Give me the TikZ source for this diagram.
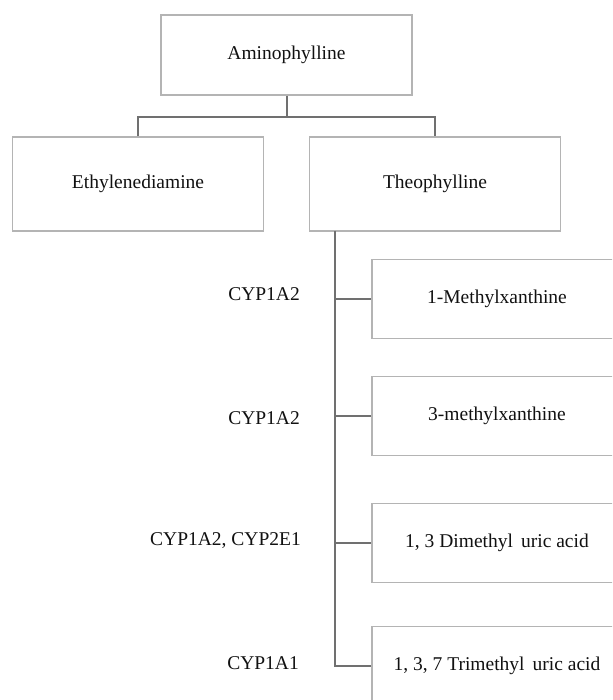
\documentclass[tikz,border=0pt]{standalone}
\usepackage{fontspec}
\setmainfont{Liberation Serif}
\begin{document}
\begin{tikzpicture}[x=1pt,y=-1pt,
  box/.style={draw=boxgray,line width=1.2pt,fill=white,inner sep=0pt,
    font=\fontsize{19.5}{23}\selectfont,text=txt},
  topbox/.style={box,minimum width=251pt,minimum height=80pt},
  midbox/.style={box,minimum width=251pt,minimum height=94pt},
  subbox/.style={box,minimum width=250pt,minimum height=79pt},
  lab/.style={anchor=east,inner sep=0pt,font=\fontsize{19.5}{23}\selectfont,text=txt},
  conn/.style={draw=linegray,line width=1.7pt}]
\definecolor{boxgray}{HTML}{B4B4B4}
\definecolor{linegray}{HTML}{707070}
\definecolor{txt}{HTML}{111111}
\useasboundingbox (0,0) rectangle (612,700);
\clip (0,0) rectangle (612,700);
\fill[white] (0,0) rectangle (612,700);
\node[topbox] (amino) at (286.5,55) {Aminophylline};
\node[midbox] (eth) at (138,184) {Ethylenediamine};
\node[midbox] (theo) at (435,184) {Theophylline};
\node[subbox] (m1) at (497,299) {1-Methylxanthine};
\node[subbox] (m2) at (497,416) {3-methylxanthine};
\node[subbox] (m3) at (497,543) {1, 3 Dimethyl\, uric acid};
\node[subbox] (m4) at (497,666) {1, 3, 7 Trimethyl\, uric acid};
\coordinate (j) at (287,117);
\coordinate (tt) at (335,231);
\draw[conn] (amino.south -| j) -- (j);
\draw[conn] (eth.north) |- (j) -| (theo.north);
\draw[conn] (tt) |- (m4.west);
\draw[conn] (tt |- m1.west) -- (m1.west);
\draw[conn] (tt |- m2.west) -- (m2.west);
\draw[conn] (tt |- m3.west) -- (m3.west);
\node[lab] (l1) at (300,294) {CYP1A2};
\node[lab] (l2) at (300,418) {CYP1A2};
\node[lab] (l3) at (301,541) {CYP1A2, CYP2E1};
\node[lab] (l4) at (299,663) {CYP1A1};
\end{tikzpicture}
\end{document}
